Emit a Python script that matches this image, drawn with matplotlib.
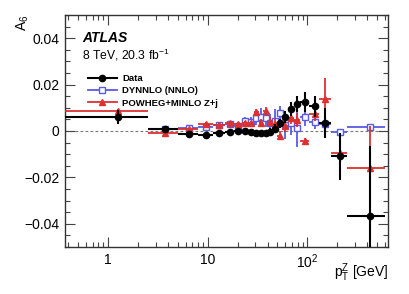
import numpy as np
import matplotlib
matplotlib.use('Agg')
import matplotlib.pyplot as plt
from matplotlib.lines import Line2D
from matplotlib.ticker import LogLocator, FixedLocator, MultipleLocator, FixedFormatter

plt.rcParams['font.family'] = ['Liberation Sans', 'DejaVu Sans']
plt.rcParams['mathtext.fontset'] = 'custom'
plt.rcParams['mathtext.rm'] = 'Liberation Sans'
plt.rcParams['mathtext.it'] = 'Liberation Sans:italic'
plt.rcParams['mathtext.bf'] = 'Liberation Sans:bold'

# pT(Z) bin edges [GeV]
bin_edges = [0, 2.5, 5.0, 8.0, 11.4, 14.9, 18.5, 22.0, 25.5, 29.0, 32.6, 36.4,
             40.4, 44.9, 50.2, 56.4, 63.9, 73.4, 85.4, 105.0, 132.0, 173.0,
             253.0, 600.0]

data_val = [0.0062, 0.0008, -0.0013, -0.0016, -0.0008, -0.0004, 0.0001,
            -0.0001, -0.0006, -0.0010, -0.0010, -0.0010, -0.0003, 0.0010,
            0.0033, 0.0060, 0.0094, 0.0116, 0.0125, 0.0106, 0.0036, -0.0110,
            -0.0365]
data_err = [0.0030, 0.0008, 0.0007, 0.0007, 0.0008, 0.0008, 0.0009, 0.0009,
            0.0010, 0.0012, 0.0012, 0.0013, 0.0015, 0.0018, 0.0020, 0.0025,
            0.0030, 0.0035, 0.0042, 0.0045, 0.0065, 0.0100, 0.0300]

dynnlo_val = [np.nan, 0.0010, 0.0013, 0.0016, 0.0025, 0.0028, 0.0022, 0.0045,
              0.0040, 0.0055, 0.0060, 0.0055, 0.0033, 0.0045, 0.0077, 0.0026,
              0.0033, 0.0012, 0.0062, 0.0040, 0.0032, -0.0003, 0.0019]
dynnlo_err = [np.nan, 0.0005, 0.0006, 0.0008, 0.0010, 0.0012, 0.0015, 0.0015,
              0.0020, 0.0030, 0.0040, 0.0040, 0.0040, 0.0050, 0.0030, 0.0060,
              0.0050, 0.0080, 0.0040, 0.0030, 0.0020, 0.0005, 0.0005]

powheg_val = [0.0088, -0.0007, 0.0007, 0.0031, 0.0025, 0.0033, 0.0030, 0.0033,
              0.0033, 0.0080, 0.0035, 0.0086, 0.0040, 0.0030, -0.0020, 0.0020,
              0.0055, 0.0048, -0.0045, 0.0072, 0.0140, -0.0095, -0.0160]
powheg_err = [0.0005, 0.0005, 0.0005, 0.0008, 0.0008, 0.0010, 0.0010, 0.0010,
              0.0012, 0.0015, 0.0015, 0.0018, 0.0020, 0.0020, 0.0020, 0.0025,
              0.0025, 0.0030, 0.0015, 0.0030, 0.0090, 0.0005, 0.0180]

edges = np.array(bin_edges)
centers = 0.5 * (edges[1:] + edges[:-1])
xerr = [centers - np.maximum(edges[:-1], 1e-3), edges[1:] - centers]

blue = '#5a5ae6'
red = '#dd3030'

fig = plt.figure(figsize=(4.09, 2.94), dpi=100)
ax = fig.add_axes([0.159, 0.160, 0.790, 0.789])

ax.axhline(0, color='#777777', lw=0.8, ls=(0, (2.5, 2)), zorder=1)

ax.errorbar(centers, dynnlo_val, xerr=xerr, yerr=dynnlo_err, fmt='s',
            color=blue, mfc='white', mec=blue, ms=4.2, mew=1.0,
            elinewidth=1.3, capsize=0, zorder=2)
ax.errorbar(centers, powheg_val, xerr=xerr, yerr=powheg_err, fmt='^',
            color=red, ms=4.0, elinewidth=1.3, capsize=0, zorder=3)
ax.errorbar(centers, data_val, xerr=xerr, yerr=data_err, fmt='o',
            color='black', ms=4.5, elinewidth=1.5, capsize=0, zorder=4)

ax.set_xscale('log')
ax.set_xlim(0.37, 650)
ax.set_ylim(-0.05, 0.05)

ax.xaxis.set_major_locator(FixedLocator([1, 10, 100]))
ax.xaxis.set_major_formatter(FixedFormatter(['1', '10', r'10$^2$']))
ax.xaxis.set_minor_locator(LogLocator(base=10, subs=np.arange(2, 10)))
ax.xaxis.set_minor_formatter(FixedFormatter([]))
ax.yaxis.set_major_locator(FixedLocator([-0.04, -0.02, 0, 0.02, 0.04]))
ax.yaxis.set_major_formatter(FixedFormatter(['\u22120.04', '\u22120.02', '0',
                                             '0.02', '0.04']))
ax.yaxis.set_minor_locator(MultipleLocator(0.005))

ax.tick_params(which='both', direction='in', top=True, right=True,
               labelsize=10, width=0.8, colors='#444444', labelcolor='black')
ax.tick_params(which='major', length=7, pad=4)
ax.tick_params(which='minor', length=3.5)
for sp in ax.spines.values():
    sp.set_linewidth(1.0)
    sp.set_color('#333333')

ax.text(0.052, 0.885, 'ATLAS', transform=ax.transAxes, fontsize=10,
        fontweight='bold', fontstyle='italic')
ax.text(0.052, 0.81, r'8 TeV, 20.3 fb$^{\mathregular{-1}}$',
        transform=ax.transAxes, fontsize=8.7)

handles = [
    Line2D([], [], color='black', marker='o', ms=4.5, lw=1.5),
    Line2D([], [], color=blue, marker='s', mfc='white', mec=blue, ms=4.2,
           lw=1.3),
    Line2D([], [], color=red, marker='^', ms=4.0, lw=1.3),
]
ax.legend(handles, ['Data', 'DYNNLO (NNLO)', 'POWHEG+MINLO Z+j'],
          loc='upper left', bbox_to_anchor=(0.072, 0.745), frameon=False,
          prop={'size': 6.8, 'weight': 'bold'}, handlelength=3.0,
          handletextpad=0.6, labelspacing=0.35, borderaxespad=0,
          borderpad=0)

fig.text(0.055, 0.949, r'A$_6$', rotation=90, ha='center', va='top',
         fontsize=10)
fig.text(0.949, 0.035, r'p$_\mathregular{T}^\mathregular{Z}$ [GeV]',
         ha='right', va='bottom', fontsize=10)

fig.savefig('out.png', dpi=100)
